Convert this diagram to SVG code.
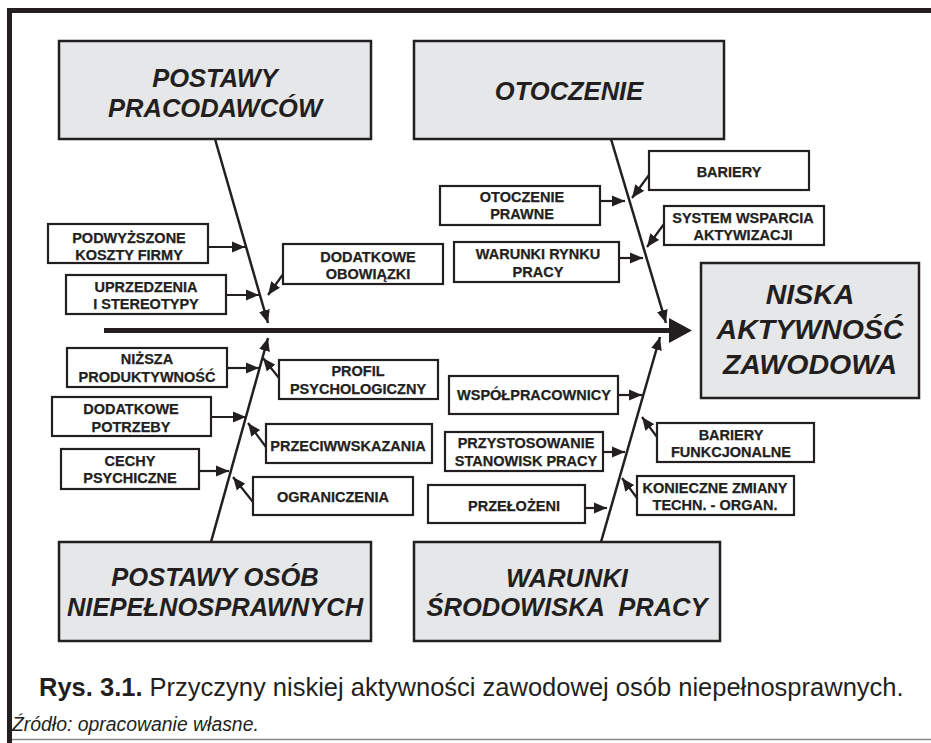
<svg xmlns="http://www.w3.org/2000/svg" width="931" height="743" viewBox="0 0 931 743">
  <style>
    text { font-family: "Liberation Sans", Arial, sans-serif; fill: #231f20; }
    .head { font-size: 25.5px; font-weight: bold; font-style: italic; text-anchor: middle; }
    .effect { font-size: 28.5px; font-weight: bold; font-style: italic; text-anchor: middle; }
    .lbl { font-size: 14.5px; font-weight: bold; text-anchor: middle; stroke: #231f20; stroke-width: 0.25; }
    .cat { fill: #e6e7e8; stroke: #231f20; stroke-width: 2.5; }
    .cause { fill: #ffffff; stroke: #231f20; stroke-width: 2.2; }
    .bone { stroke: #231f20; stroke-width: 2.5; fill: none; marker-end: url(#head); }
    .sub { stroke: #231f20; stroke-width: 2.2; fill: none; marker-end: url(#head); }
  </style>
  <defs>
    <marker id="head" markerUnits="userSpaceOnUse" markerWidth="14" markerHeight="12" refX="13" refY="6" orient="auto">
      <path d="M0,0.5 L13,6 L0,11.5 Z" fill="#231f20"/>
    </marker>
  </defs>

  <rect width="931" height="743" fill="#ffffff"/>

  <!-- frame -->
  <rect x="7" y="8" width="924" height="5" fill="#231f20"/>
  <rect x="7" y="8" width="5" height="735" fill="#231f20"/>
  <line x1="12" y1="739.5" x2="931" y2="739.5" stroke="#8a8a8a" stroke-width="1.6"/>

  <!-- connectors -->
  <g id="connectors">
    <line x1="104" y1="330.5" x2="670" y2="330.5" stroke="#231f20" stroke-width="5"/>
    <polygon points="669,318 692,330.5 669,343" fill="#231f20"/>

    <line class="bone" x1="215" y1="139" x2="268" y2="323"/>
    <line class="bone" x1="611" y1="139" x2="666" y2="323"/>
    <line class="bone" x1="211" y1="542" x2="268" y2="338"/>
    <line class="bone" x1="601" y1="542" x2="660" y2="337"/>

    <line class="sub" x1="208" y1="247" x2="245" y2="247"/>
    <line class="sub" x1="226" y1="295" x2="259" y2="295"/>
    <line class="sub" x1="284" y1="273" x2="268" y2="295"/>
    <line class="sub" x1="600" y1="201" x2="625" y2="201"/>
    <line class="sub" x1="649" y1="175" x2="632" y2="198"/>
    <line class="sub" x1="664" y1="224" x2="647" y2="247"/>
    <line class="sub" x1="619" y1="258" x2="643" y2="258"/>

    <line class="sub" x1="227" y1="368" x2="259" y2="368"/>
    <line class="sub" x1="279" y1="378" x2="263" y2="358"/>
    <line class="sub" x1="211" y1="417" x2="246" y2="417"/>
    <line class="sub" x1="266" y1="447" x2="248" y2="423"/>
    <line class="sub" x1="199" y1="471" x2="229" y2="471"/>
    <line class="sub" x1="253" y1="502" x2="233" y2="477"/>

    <line class="sub" x1="618" y1="395" x2="642" y2="395"/>
    <line class="sub" x1="603" y1="452" x2="625" y2="452"/>
    <line class="sub" x1="585" y1="508" x2="607" y2="508"/>
    <line class="sub" x1="657" y1="437" x2="642" y2="417"/>
    <line class="sub" x1="637" y1="498" x2="622" y2="478"/>
  </g>

  <!-- category boxes -->
  <g id="postawy-pracodawcow">
    <rect class="cat" x="59" y="41" width="312" height="98"/>
    <text class="head" x="215" y="87">POSTAWY</text>
    <text class="head" x="215" y="117">PRACODAWCÓW</text>
  </g>
  <g id="otoczenie">
    <rect class="cat" x="414" y="41" width="310" height="98"/>
    <text class="head" x="569" y="100">OTOCZENIE</text>
  </g>
  <g id="postawy-osob">
    <rect class="cat" x="59" y="542" width="312" height="99"/>
    <text class="head" x="215" y="586">POSTAWY OSÓB</text>
    <text class="head" x="215" y="616">NIEPEŁNOSPRAWNYCH</text>
  </g>
  <g id="warunki-srodowiska">
    <rect class="cat" x="414" y="542" width="306" height="99"/>
    <text class="head" x="567" y="587">WARUNKI</text>
    <text class="head" x="567" y="616" xml:space="preserve">ŚRODOWISKA  PRACY</text>
  </g>
  <g id="niska-aktywnosc">
    <rect class="cat" x="701" y="263" width="218" height="135"/>
    <text class="effect" x="810" y="304">NISKA</text>
    <text class="effect" x="810" y="339">AKTYWNOŚĆ</text>
    <text class="effect" x="810" y="374">ZAWODOWA</text>
  </g>

  <!-- cause boxes -->
  <g id="podwyzszone-koszty">
    <rect class="cause" x="48" y="224" width="160" height="39"/>
    <text class="lbl" x="129" y="243">PODWYŻSZONE</text>
    <text class="lbl" x="129" y="260">KOSZTY FIRMY</text>
  </g>
  <g id="uprzedzenia">
    <rect class="cause" x="66" y="275" width="160" height="39"/>
    <text class="lbl" x="146" y="292">UPRZEDZENIA</text>
    <text class="lbl" x="146" y="309">I STEREOTYPY</text>
  </g>
  <g id="dodatkowe-obowiazki">
    <rect class="cause" x="283" y="244" width="160" height="40"/>
    <text class="lbl" x="368" y="262">DODATKOWE</text>
    <text class="lbl" x="368" y="279">OBOWIĄZKI</text>
  </g>
  <g id="otoczenie-prawne">
    <rect class="cause" x="440" y="186" width="160" height="39"/>
    <text class="lbl" x="522" y="202">OTOCZENIE</text>
    <text class="lbl" x="522" y="219">PRAWNE</text>
  </g>
  <g id="bariery">
    <rect class="cause" x="649" y="151" width="160" height="39"/>
    <text class="lbl" x="729" y="177">BARIERY</text>
  </g>
  <g id="system-wsparcia">
    <rect class="cause" x="664" y="206" width="160" height="39"/>
    <text class="lbl" x="743" y="223">SYSTEM WSPARCIA</text>
    <text class="lbl" x="743" y="240">AKTYWIZACJI</text>
  </g>
  <g id="warunki-rynku">
    <rect class="cause" x="454" y="242" width="165" height="40"/>
    <text class="lbl" x="538" y="259">WARUNKI RYNKU</text>
    <text class="lbl" x="538" y="277">PRACY</text>
  </g>
  <g id="nizsza-produktywnosc">
    <rect class="cause" x="67" y="348" width="160" height="39"/>
    <text class="lbl" x="147" y="364">NIŻSZA</text>
    <text class="lbl" x="147" y="382">PRODUKTYWNOŚĆ</text>
  </g>
  <g id="profil-psychologiczny">
    <rect class="cause" x="279" y="360" width="159" height="39"/>
    <text class="lbl" x="358" y="376">PROFIL</text>
    <text class="lbl" x="358" y="394">PSYCHOLOGICZNY</text>
  </g>
  <g id="dodatkowe-potrzeby">
    <rect class="cause" x="52" y="397" width="159" height="39"/>
    <text class="lbl" x="131" y="414">DODATKOWE</text>
    <text class="lbl" x="131" y="432">POTRZEBY</text>
  </g>
  <g id="przeciwwskazania">
    <rect class="cause" x="266" y="424" width="166" height="39"/>
    <text class="lbl" x="348" y="451">PRZECIWWSKAZANIA</text>
  </g>
  <g id="cechy-psychiczne">
    <rect class="cause" x="61" y="449" width="138" height="40"/>
    <text class="lbl" x="130" y="466">CECHY</text>
    <text class="lbl" x="130" y="483">PSYCHICZNE</text>
  </g>
  <g id="ograniczenia">
    <rect class="cause" x="253" y="477" width="160" height="38"/>
    <text class="lbl" x="333" y="502">OGRANICZENIA</text>
  </g>
  <g id="wspolpracownicy">
    <rect class="cause" x="449" y="376" width="169" height="38"/>
    <text class="lbl" x="534" y="400">WSPÓŁPRACOWNICY</text>
  </g>
  <g id="przystosowanie">
    <rect class="cause" x="445" y="432" width="158" height="39"/>
    <text class="lbl" x="526" y="448">PRZYSTOSOWANIE</text>
    <text class="lbl" x="526" y="466">STANOWISK PRACY</text>
  </g>
  <g id="przelozeni">
    <rect class="cause" x="428" y="485" width="157" height="38"/>
    <text class="lbl" x="514" y="511">PRZEŁOŻENI</text>
  </g>
  <g id="bariery-funkcjonalne">
    <rect class="cause" x="657" y="423" width="157" height="39"/>
    <text class="lbl" x="731" y="440">BARIERY</text>
    <text class="lbl" x="731" y="457">FUNKCJONALNE</text>
  </g>
  <g id="konieczne-zmiany">
    <rect class="cause" x="637" y="476" width="157" height="39"/>
    <text class="lbl" x="715" y="493">KONIECZNE ZMIANY</text>
    <text class="lbl" x="715" y="510">TECHN. - ORGAN.</text>
  </g>

  <!-- caption -->
  <text x="39" y="696" font-size="25.5"><tspan font-weight="bold">Rys. 3.1.</tspan> Przyczyny niskiej aktywności zawodowej osób niepełnosprawnych.</text>
  <text x="12" y="731" font-size="19.4" font-style="italic">Źródło: opracowanie własne.</text>
</svg>
